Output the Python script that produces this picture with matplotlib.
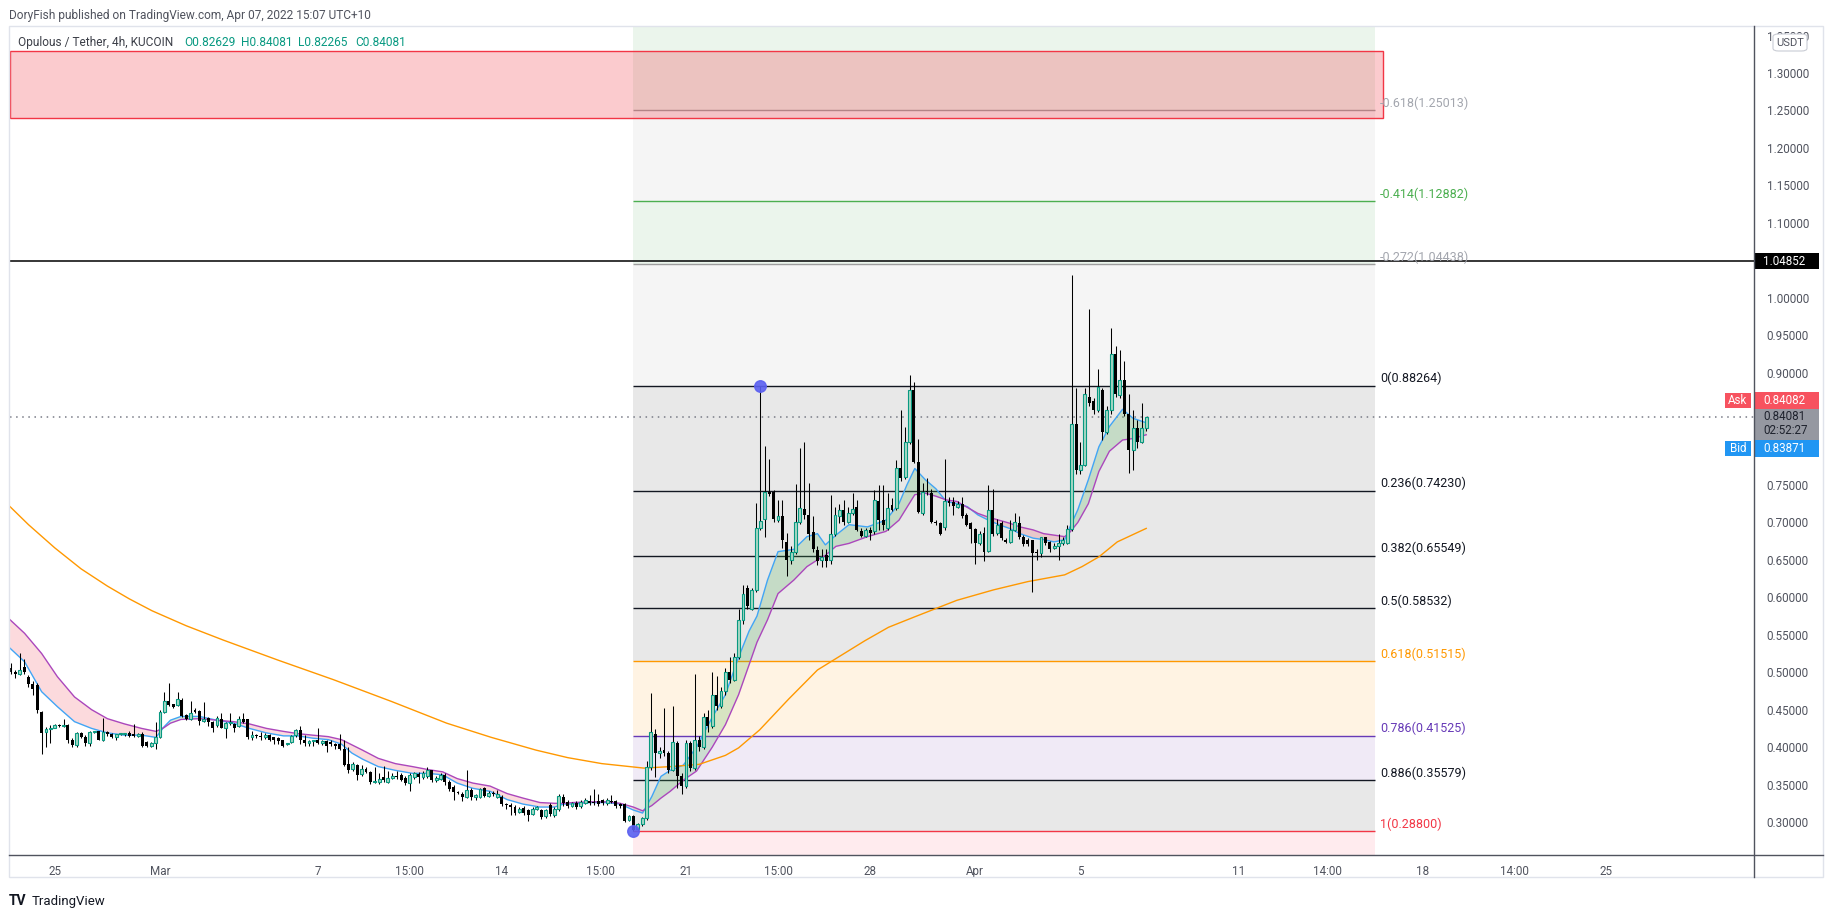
import matplotlib
matplotlib.use("Agg")
import matplotlib.pyplot as plt
import matplotlib.transforms as mtrans
from matplotlib.patches import Rectangle, FancyBboxPatch
from matplotlib.lines import Line2D
import numpy as np

plt.rcParams['font.family'] = ['Roboto', 'DejaVu Sans']

# OPUL/USDT 4h candles, x axis = days from Mar 1 00:00, first candle Feb 23 08:00
first_candle = -5.667
opens = [
    .505, .500, .497, .507, .494, .484, .483, .447, .420, .424,
    .426, .429, .428, .430, .410, .403, .419, .414, .405, .420,
    .421, .410, .420, .417, .413, .417, .417, .419, .417, .415,
    .418, .407, .401, .406, .413, .447, .461, .457, .456, .463,
    .443, .438, .450, .448, .435, .439, .433, .429, .438, .426,
    .432, .431, .428, .437, .437, .413, .416, .415, .413, .416,
    .413, .412, .409, .404, .407, .416, .423, .410, .406, .408,
    .410, .406, .408, .407, .404, .404, .398, .378, .371, .376,
    .364, .371, .367, .353, .354, .360, .354, .359, .361, .363,
    .359, .352, .360, .364, .360, .361, .369, .356, .358, .363,
    .354, .347, .340, .338, .334, .343, .333, .334, .345, .335,
    .339, .334, .334, .324, .323, .320, .314, .319, .316, .311,
    .318, .316, .308, .323, .309, .317, .333, .327, .321, .326,
    .321, .326, .328, .327, .328, .329, .325, .328, .328, .324,
    .324, .303, .308, .291, .297, .305, .374, .418, .392, .396,
    .392, .370, .405, .362, .348, .405, .372, .409, .400, .440,
    .428, .470, .455, .475, .500, .490, .520, .570, .612, .585,
    .610, .692, .704, .740, .741, .703, .708, .674, .650, .661,
    .701, .718, .710, .687, .663, .650, .657, .650, .685, .709,
    .716, .701, .712, .721, .689, .682, .690, .688, .729, .703,
    .692, .723, .719, .772, .761, .808, .877, .780, .713, .742,
    .739, .701, .699, .694, .728, .727, .721, .725, .710, .699,
    .691, .672, .686, .662, .717, .686, .699, .677, .674, .690,
    .699, .681, .677, .677, .660, .659, .680, .674, .666, .668,
    .672, .673, .691, .831, .770, .777, .868, .862, .850, .877,
    .821, .850, .925, .870, .890, .845, .797, .826, .808, .82629,
]
highs = [
    .512, .503, .526, .518, .496, .488, .486, .448, .427, .429,
    .431, .431, .438, .431, .412, .420, .420, .416, .422, .421,
    .422, .439, .421, .419, .418, .418, .419, .421, .431, .419,
    .420, .408, .407, .434, .449, .474, .486, .458, .474, .465,
    .444, .461, .452, .450, .460, .440, .435, .441, .446, .433,
    .445, .432, .442, .445, .438, .422, .418, .420, .419, .418,
    .414, .413, .410, .405, .416, .424, .428, .416, .410, .410,
    .426, .410, .410, .410, .406, .418, .410, .400, .380, .378,
    .376, .374, .368, .374, .365, .375, .368, .366, .368, .365,
    .361, .366, .367, .367, .368, .374, .370, .361, .365, .366,
    .356, .349, .342, .340, .370, .346, .338, .346, .347, .342,
    .341, .343, .336, .326, .325, .323, .320, .321, .318, .320,
    .322, .318, .318, .325, .320, .338, .338, .329, .327, .328,
    .329, .332, .336, .344, .338, .331, .332, .336, .330, .325,
    .326, .310, .310, .299, .307, .382, .472, .424, .400, .452,
    .395, .455, .408, .365, .410, .408, .498, .415, .445, .450,
    .500, .495, .480, .505, .520, .525, .585, .617, .617, .613,
    .726, .8826, .802, .785, .743, .730, .730, .686, .668, .751,
    .799, .808, .752, .709, .668, .665, .665, .737, .721, .725,
    .730, .721, .739, .730, .692, .693, .694, .743, .750, .750,
    .739, .732, .783, .850, .828, .897, .888, .811, .752, .759,
    .745, .703, .701, .785, .734, .734, .728, .734, .712, .701,
    .693, .688, .694, .750, .745, .705, .702, .679, .703, .712,
    .708, .683, .679, .677, .665, .681, .681, .675, .672, .685,
    .680, .697, 1.030, .880, .808, .880, .985, .866, .905, .880,
    .855, .960, .935, .930, .915, .872, .850, .837, .859, .84081,
]
lows = [
    .497, .492, .496, .498, .480, .470, .445, .391, .400, .405,
    .425, .427, .427, .405, .400, .400, .412, .402, .402, .419,
    .410, .408, .415, .412, .410, .416, .415, .414, .413, .414,
    .400, .400, .400, .398, .412, .446, .455, .452, .455, .440,
    .436, .436, .446, .430, .434, .428, .420, .427, .425, .412,
    .430, .420, .427, .432, .411, .410, .412, .410, .411, .408,
    .404, .404, .400, .403, .405, .414, .404, .402, .402, .401,
    .404, .403, .394, .402, .397, .396, .375, .365, .368, .356,
    .362, .365, .351, .352, .351, .354, .352, .357, .358, .355,
    .350, .342, .358, .352, .358, .359, .353, .354, .356, .350,
    .342, .329, .337, .328, .332, .330, .330, .332, .333, .333,
    .335, .332, .322, .317, .309, .310, .312, .310, .302, .309,
    .316, .304, .306, .308, .307, .315, .322, .319, .320, .318,
    .319, .324, .323, .323, .322, .323, .323, .325, .319, .319,
    .300, .301, .288, .289, .295, .303, .370, .360, .385, .388,
    .365, .368, .345, .338, .345, .368, .369, .395, .398, .420,
    .425, .450, .452, .470, .485, .488, .518, .565, .585, .583,
    .607, .690, .680, .735, .700, .700, .666, .628, .645, .658,
    .698, .705, .676, .660, .643, .641, .641, .645, .682, .699,
    .697, .699, .710, .688, .680, .680, .677, .685, .690, .690,
    .690, .715, .717, .755, .758, .805, .779, .712, .710, .736,
    .699, .697, .683, .690, .722, .710, .719, .706, .695, .672,
    .645, .670, .648, .660, .682, .683, .676, .672, .672, .688,
    .678, .669, .669, .607, .650, .654, .670, .660, .664, .650,
    .670, .671, .689, .765, .765, .775, .855, .845, .848, .810,
    .818, .845, .868, .866, .842, .766, .770, .800, .806, .82265,
]
closes = [
    .500, .497, .503, .500, .484, .478, .450, .419, .424, .426,
    .429, .428, .430, .410, .403, .419, .414, .405, .420, .421,
    .410, .420, .417, .413, .417, .417, .418, .415, .415, .418,
    .401, .401, .406, .413, .447, .461, .456, .454, .464, .441,
    .437, .446, .447, .435, .438, .434, .425, .439, .426, .432,
    .432, .426, .437, .434, .413, .416, .415, .413, .416, .410,
    .409, .408, .401, .404, .415, .423, .409, .406, .408, .409,
    .406, .408, .402, .404, .402, .398, .376, .369, .377, .363,
    .371, .367, .354, .355, .358, .356, .359, .361, .360, .356,
    .352, .363, .365, .360, .365, .369, .356, .359, .363, .354,
    .344, .340, .339, .334, .343, .333, .336, .344, .335, .339,
    .337, .338, .324, .323, .320, .312, .318, .312, .309, .318,
    .319, .307, .316, .311, .317, .335, .325, .321, .325, .320,
    .327, .330, .325, .325, .324, .325, .329, .327, .321, .321,
    .302, .308, .289, .297, .305, .374, .420, .392, .395, .392,
    .370, .407, .362, .348, .405, .372, .409, .400, .440, .428,
    .470, .455, .475, .500, .490, .520, .570, .605, .588, .610,
    .692, .702, .740, .738, .704, .708, .677, .650, .661, .701,
    .719, .710, .685, .665, .648, .654, .648, .685, .710, .716,
    .701, .712, .718, .690, .682, .690, .686, .730, .703, .697,
    .719, .717, .772, .759, .808, .877, .780, .714, .741, .740,
    .701, .699, .685, .728, .726, .722, .725, .709, .697, .691,
    .672, .685, .660, .717, .685, .697, .679, .674, .690, .700,
    .681, .671, .671, .659, .659, .680, .673, .664, .669, .673,
    .677, .691, .831, .770, .777, .872, .860, .850, .881, .821,
    .850, .925, .872, .890, .845, .797, .826, .808, .826, .84081,
]

# moving averages (same day grid for both EMAs)
ema_days = [
    -5.7, -5.15, -4.5, -3.9, -3.25, -2.6, -2.0, -1.35, -0.7, -0.15,
    0.15, 0.4, 0.8, 1.5, 2.15, 2.8, 3.4, 4.05, 4.7, 5.25,
    5.8, 6.4, 6.9, 7.3, 7.7, 8.3, 8.95, 9.6, 10.2, 10.75,
    11.3, 11.9, 12.55, 13.2, 13.8, 14.45, 15.0, 15.35, 15.7, 16.35,
    17.0, 17.5, 18.0, 18.35, 18.7, 19.05, 19.4, 19.9, 20.4, 21.0,
    21.5, 22.0, 22.4, 22.7, 23.1, 23.5, 24.1, 24.6, 25.0, 25.3,
    25.7, 26.2, 26.9, 27.6, 28.1, 28.4, 28.7, 29.1, 29.5, 29.9,
    30.3, 30.7, 31.1, 31.5, 31.9, 32.3, 32.7, 33.2, 33.6, 34.0,
    34.4, 34.6, 34.9, 35.3, 35.7, 36.1, 36.6, 37.0, 37.5,
]
ema_fast = [
    .532, .514, .474, .454, .434, .425, .419, .416, .416, .413,
    .427, .436, .441, .441, .436, .432, .425, .419, .415, .415,
    .412, .410, .404, .392, .384, .374, .369, .365, .365, .363,
    .352, .345, .341, .330, .324, .320, .320, .324, .324, .326,
    .326, .324, .316, .312, .334, .361, .369, .376, .400, .440,
    .470, .520, .555, .575, .623, .661, .664, .681, .685, .670,
    .683, .697, .694, .703, .725, .750, .772, .757, .745, .728,
    .725, .721, .710, .703, .697, .692, .685, .679, .677, .674,
    .677, .694, .717, .757, .801, .828, .851, .839, .833,
]
ema_slow = [
    .570, .552, .525, .494, .467, .450, .438, .431, .425, .421,
    .426, .432, .437, .438, .436, .434, .431, .425, .421, .418,
    .416, .414, .410, .403, .396, .385, .378, .374, .370, .367,
    .358, .352, .348, .338, .332, .326, .325, .325, .326, .327,
    .327, .325, .320, .315, .322, .332, .341, .356, .368, .400,
    .430, .470, .510, .540, .570, .605, .623, .641, .650, .656,
    .668, .672, .681, .688, .703, .720, .737, .739, .735, .730,
    .728, .720, .712, .707, .703, .699, .694, .690, .685, .683,
    .681, .687, .700, .725, .768, .795, .810, .812, .817,
]
ma_days = [
    -5.7, -5.0, -4.0, -3.0, -2.0, -1.17, -0.3, 1.0, 2.4, 4.5,
    6.6, 8.8, 10.9, 12.6, 14.3, 15.5, 16.8, 18.4, 19.4, 20.5,
    21.5, 22.0, 22.8, 23.9, 25.0, 26.8, 27.7, 28.7, 29.5, 30.3,
    31.7, 33.0, 34.4, 35.06, 35.7, 36.4, 37.5,
]
ma_long = [
    .721, .697, .666, .638, .615, .598, .582, .562, .543, .516,
    .490, .461, .432, .413, .396, .386, .378, .372, .374, .377,
    .389, .399, .423, .464, .503, .542, .560, .574, .585, .596,
    .610, .621, .630, .641, .654, .674, .692,
]

# fib retracement drawn from the Mar 19 low to the Mar 23 high
fib_left, fib_right = 18.0, 46.2
fib_ratios = [-0.618, -0.414, -0.272, 0, 0.236, 0.382, 0.5, 0.618, 0.786, 0.886, 1]
fib_prices = [1.25013, 1.12882, 1.04438, 0.88264, 0.74230, 0.65549, 0.58532, 0.51515, 0.41525, 0.35579, 0.28800]
fib_line_colors = ['#9e9e9e', '#4caf50', '#9e9e9e', '#131722', '#131722', '#131722',
                   '#131722', '#ff9800', '#673ab7', '#131722', '#f23645']
fib_text_colors = ['#a3a6ae', '#4caf50', '#a3a6ae', '#131722', '#131722', '#131722',
                   '#131722', '#ff9800', '#673ab7', '#131722', '#f23645']
# band above each level (first = above -0.618), last = below 1
fib_bands = ['#ebf5ec', '#f5f5f5', '#ebf5ec', '#f5f5f5', '#e8e8e8', '#e8e8e8',
             '#e8e8e8', '#e8e8e8', '#fff3e3', '#f0eaf6', '#e8e8e8', '#ffebee']

resistance = 1.04852
last_price = 0.84081
ask, bid = 0.84082, 0.83871
zone_low, zone_high = 1.2397, 1.3287
swing_days = [18.0, 22.83]
swing_prices = [0.28800, 0.88264]

tick_days = [-4, 0, 6, 9.47, 13, 16.73, 20, 23.5, 27, 31, 35, 41, 44.4, 48, 51.5, 55]
tick_labels = ['25', 'Mar', '7', '15:00', '14', '15:00', '21', '15:00', '28', 'Apr', '5',
               '11', '14:00', '18', '14:00', '25']
price_ticks = [0.30, 0.35, 0.40, 0.45, 0.50, 0.55, 0.60, 0.65, 0.70, 0.75,
               0.90, 0.95, 1.00, 1.10, 1.15, 1.20, 1.25, 1.30, 1.35]

W, H = 1834, 918
fig = plt.figure(figsize=(W / 100, H / 100), dpi=100)
ax = fig.add_axes([10 / W, 1 - 855 / H, 1744 / W, 829 / H])
y_lo, y_hi = 0.256, 1.3627
x_lo, x_hi = -5.703, 60.61
ax.set_xlim(x_lo, x_hi)
ax.set_ylim(y_lo, y_hi)

# fib backgrounds, levels and labels
edges = [y_hi] + fib_prices + [y_lo]
for k, col in enumerate(fib_bands):
    ax.fill_between([fib_left, fib_right], edges[k + 1], edges[k], color=col, lw=0, zorder=0)
ax.hlines(fib_prices, fib_left, fib_right, colors=fib_line_colors, lw=1, zorder=1)
for r, p, col in zip(fib_ratios, fib_prices, fib_text_colors):
    ax.annotate(f'{r:g}({p:.5f})', (fib_right + 0.19, p), xytext=(0, 5), textcoords='offset points',
                va='center', ha='left', fontsize=9, color=col, zorder=6)

# resistance zone box
ax.add_patch(Rectangle((x_lo, zone_low), fib_right + 0.3 - x_lo, zone_high - zone_low,
                       facecolor=(0.949, 0.212, 0.271, 0.26), edgecolor='#f23645', lw=1, zorder=2))
ax.axhline(resistance, color='black', lw=1.1, zorder=2)
ax.axhline(last_price, color='#787b86', lw=1.1, ls=(0, (1, 3)), zorder=2)

# emas and cloud
fast = np.array(ema_fast)
slow = np.array(ema_slow)
ax.fill_between(ema_days, fast, slow, where=fast >= slow, interpolate=True,
                color='#4caf50', alpha=0.22, lw=0, zorder=2)
ax.fill_between(ema_days, fast, slow, where=fast < slow, interpolate=True,
                color='#f23645', alpha=0.18, lw=0, zorder=2)
ax.plot(ema_days, ema_fast, color='#42a5f5', lw=1.0, zorder=3)
ax.plot(ema_days, ema_slow, color='#ab47bc', lw=1.0, zorder=3)
ax.plot(ma_days, ma_long, color='#ff9800', lw=1.0, zorder=3)

# candles
o = np.array(opens)
c = np.array(closes)
x = first_candle + np.arange(len(c)) / 6
up = c >= o
ax.vlines(x, lows, highs, color='black', lw=0.75, zorder=4)
body_lo = np.minimum(o, c)
body_h = np.maximum(np.abs(c - o), 0.0015)
ax.bar(x[up], body_h[up], bottom=body_lo[up], width=0.11, facecolor='#a8d8c4',
       edgecolor='#089981', lw=0.8, zorder=5)
ax.bar(x[~up], body_h[~up], bottom=body_lo[~up], width=0.11, color='black', lw=0, zorder=5)

ax.plot(swing_days, swing_prices, 'o', ms=8.3, color='#5a5ff0', alpha=0.9, zorder=7)

# axes styling
for s in ax.spines.values():
    s.set_visible(False)
ax.yaxis.tick_right()
ax.set_yticks(price_ticks)
ax.set_yticklabels([f'{t:.5f}' for t in price_ticks])
ax.set_xticks(tick_days)
ax.set_xticklabels(tick_labels)
ax.tick_params(axis='y', length=0, pad=9, labelsize=8.4, labelcolor='#50535e')
ax.tick_params(axis='x', length=0, pad=7, labelsize=8.4, labelcolor='#50535e')

# price tags on the right scale
bt = mtrans.blended_transform_factory(ax.transAxes, ax.transData)
tag_w = 65 / 1744
lab_x = 1.0052


def price_tag(lo, hi, face, text, tcol, text_y=None):
    ax.add_patch(Rectangle((1.0, lo), tag_w, hi - lo, transform=bt, facecolor=face,
                           lw=0, clip_on=False, zorder=10))
    ty = (lo + hi) / 2 if text_y is None else text_y
    ax.text(lab_x, ty, text, transform=bt, ha='left', va='center', fontsize=8.4,
            color=tcol, clip_on=False, zorder=11)


price_tag(resistance - 0.0108, resistance + 0.0108, 'black', f'{resistance:.5f}', 'white')
price_tag(0.8514, 0.8741, '#f7525f', f'{ask:.5f}', 'white')
price_tag(0.8100, 0.8514, '#9598a1', f'{last_price:.5f}', '#1e222d', text_y=0.8410)
ax.text(lab_x, 0.8225, '02:52:27', transform=bt, ha='left', va='center', fontsize=8.4,
        color='#1e222d', clip_on=False, zorder=11)
price_tag(0.7873, 0.8100, '#2196f3', f'{bid:.5f}', 'white')
for lo, hi, face, name in [(0.8522, 0.8733, '#f7525f', 'Ask'), (0.7880, 0.8092, '#2196f3', 'Bid')]:
    ax.add_patch(Rectangle((1715 / 1744, lo), 26 / 1744, hi - lo, transform=bt,
                           facecolor=face, lw=0, zorder=10))
    ax.text(1728 / 1744, (lo + hi) / 2, name, transform=bt, ha='center', va='center',
            fontsize=8.4, color='white', zorder=11)

# USDT unit box
fig.add_artist(FancyBboxPatch((1773 / W, 1 - 51 / H), 34 / W, 17 / H,
                              boxstyle='round,pad=0,rounding_size=0.003',
                              transform=fig.transFigure, facecolor='white',
                              edgecolor='#c9ccd4', lw=0.8, zorder=20))
fig.text(1790 / W, 1 - 42.5 / H, 'USDT', ha='center', va='center', fontsize=8,
         color='#50535e', zorder=21)

# frame lines
fig.add_artist(Rectangle((9 / W, 1 - 877 / H), 1814 / W, 851 / H, transform=fig.transFigure,
                         fill=False, edgecolor='#e0e3eb', lw=1))
fig.add_artist(Line2D([1754 / W, 1754 / W], [1 - 877 / H, 1 - 26 / H], color='#50535e', lw=1))
fig.add_artist(Line2D([9 / W, 1823 / W], [1 - 855 / H, 1 - 855 / H], color='#50535e', lw=1))

# header, legend, footer
fig.text(9 / W, 1 - 15 / H, 'DoryFish published on TradingView.com, Apr 07, 2022 15:07 UTC+10',
         ha='left', va='center', fontsize=8.6, color='#50535e')
fig.text(18 / W, 1 - 42.5 / H, 'Opulous / Tether, 4h, KUCOIN', ha='left', va='center',
         fontsize=8.6, color='#3c3f48')
for xpos, txt in [(184, 'O0.82629'), (241, 'H0.84081'), (298, 'L0.82265'), (355, 'C0.84081')]:
    fig.text(xpos / W, 1 - 42.5 / H, txt, ha='left', va='center', fontsize=8.6, color='#089981')
fig.text(9 / W, 1 - 901 / H, 'TV', ha='left', va='center', fontsize=10, fontweight='bold',
         color='#131722')
fig.text(32 / W, 1 - 901 / H, 'TradingView', ha='left', va='center', fontsize=9.5, color='#131722')

fig.savefig('out.png', dpi=100, facecolor='white')
